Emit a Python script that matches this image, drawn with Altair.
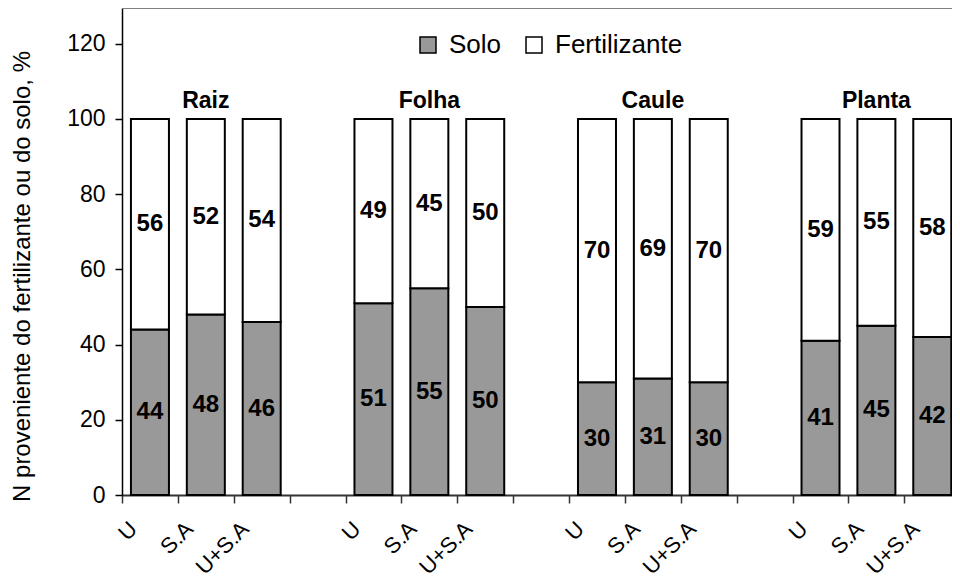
import json
import altair as alt
import pandas as pd

# ---- data ----
groups = ["Raiz", "Folha", "Caule", "Planta"]
treatments = ["U", "S.A", "U+S.A"]
solo = [44, 48, 46, 51, 55, 50, 30, 31, 30, 41, 45, 42]
fertilizante = [56, 52, 54, 49, 45, 50, 70, 69, 70, 59, 55, 58]
series = ["Solo", "Fertilizante"]
y_ticks = [0, 20, 40, 60, 80, 100, 120]

# slot layout: 3 bars per group, one empty slot between groups
slots_per_group = len(treatments) + 1
n_slots = len(groups) * slots_per_group - 1
slot_names = []
for g in groups:
    slot_names += treatments + [""]
slot_names = slot_names[:n_slots]

rows = []
for gi, g in enumerate(groups):
    for ti, t in enumerate(treatments):
        k = gi * len(treatments) + ti
        slot = gi * slots_per_group + ti
        rows.append({"grupo": g, "trat": t, "slot": slot, "serie": "Solo", "ord": 0, "valor": solo[k]})
        rows.append({"grupo": g, "trat": t, "slot": slot, "serie": "Fertilizante", "ord": 1, "valor": fertilizante[k]})
df = pd.DataFrame(rows)

grp_df = pd.DataFrame({
    "grupo": groups,
    "slot": [gi * slots_per_group + 1 for gi in range(len(groups))],
    "topo": [100] * len(groups),
})

FONT = "Liberation Sans, Arial, sans-serif"
W, H = 830, 487

x_scale = alt.Scale(domain=[0, 14.853], zero=False, nice=False, padding=0)
y_scale = alt.Scale(domain=[0, 129.5], zero=True, nice=False, padding=0)

label_expr = json.dumps(slot_names) + "[datum.value]"

x_axis = alt.Axis(
    values=list(range(n_slots)), labelExpr=label_expr, title=None,
    labelAngle=-45, labelAlign="right", labelBaseline="middle",
    labelOffset=11, labelPadding=22, labelFontSize=22, labelFont=FONT,
    labelColor="black", labelOverlap=False, labelFlush=False, labelBound=False,
    tickSize=8, tickColor="#333333", tickWidth=1.5,
    domainColor="#333333", domainWidth=2, grid=False,
)
y_axis = alt.Axis(
    values=y_ticks, title="N proveniente do fertilizante ou do solo, %",
    titleFont=FONT, titleFontSize=24, titleFontWeight="normal", titleColor="black",
    titleAngle=-90, titleAlign="center", titleBaseline="middle",
    titleX=-100, titleY=268,
    labelFontSize=23, labelFont=FONT, labelColor="black", labelPadding=10,
    tickSize=7, tickColor="black", tickWidth=1.5,
    domainColor="black", domainWidth=1.5, grid=False,
)

base = alt.Chart(df).transform_stack(
    stack="valor", groupby=["slot"], sort=[alt.SortField("ord")], as_=["y0", "y1"]
).transform_calculate(
    xc="datum.slot + 0.5", ym="(datum.y0 + datum.y1) / 2"
)

bars = base.mark_bar(width=38, stroke="black", strokeWidth=2).encode(
    x=alt.X("xc:Q", scale=x_scale, axis=x_axis),
    y=alt.Y("y0:Q", scale=y_scale, axis=y_axis),
    y2="y1:Q",
    fill=alt.Fill(
        "serie:N",
        scale=alt.Scale(domain=series, range=["#999999", "#ffffff"]),
        legend=alt.Legend(
            title=None, orient="none", direction="horizontal",
            legendX=293, legendY=24, padding=0,
            symbolType="square", symbolSize=256,
            symbolStrokeColor="black", symbolStrokeWidth=1.5, symbolOpacity=1,
            labelFont=FONT, labelFontSize=26, labelColor="black",
            labelOffset=8, columnPadding=19,
        ),
    ),
)

values = base.mark_text(
    font=FONT, fontSize=24, fontWeight="bold", color="black", baseline="middle"
).encode(
    x=alt.X("xc:Q", scale=x_scale),
    y=alt.Y("ym:Q", scale=y_scale),
    text=alt.Text("valor:Q"),
)

group_labels = alt.Chart(grp_df).transform_calculate(
    xc="datum.slot + 0.5"
).mark_text(
    font=FONT, fontSize=23, fontWeight="bold", color="black",
    baseline="alphabetic", dy=-11
).encode(
    x=alt.X("xc:Q", scale=x_scale),
    y=alt.Y("topo:Q", scale=y_scale),
    text="grupo:N",
)

top_line = alt.Chart(grp_df).mark_rule(color="#808080", strokeWidth=2).encode(
    y=alt.value(0)
)

chart = alt.layer(bars, values, group_labels, top_line).properties(
    width=W, height=H,
    autosize=alt.AutoSizeParams(type="none"),
    padding={"left": 114, "top": 0, "right": 0, "bottom": 84},
    background="white",
).configure_view(stroke=None)

chart.save("out.html", embed_options={"renderer": "svg", "actions": False})
